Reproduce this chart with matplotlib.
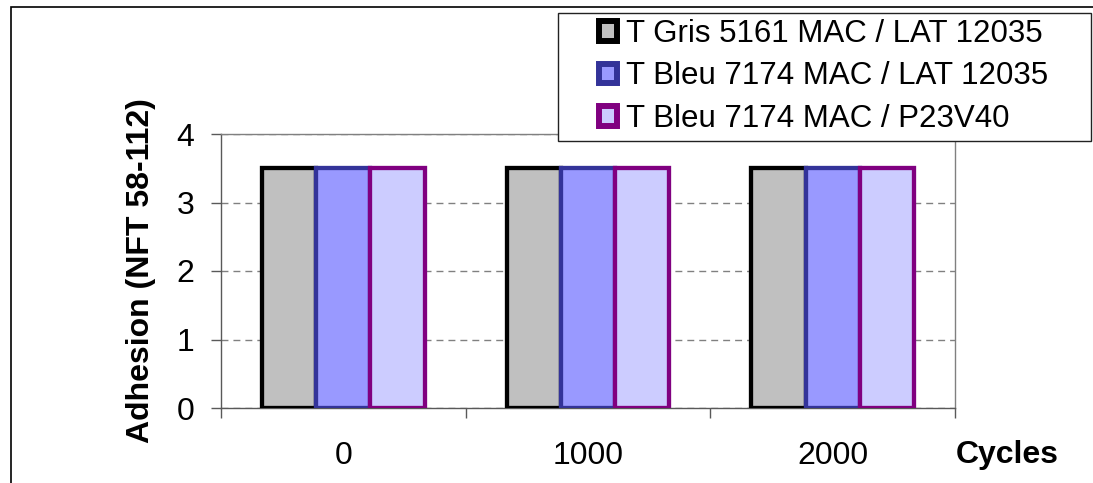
import numpy as np
import matplotlib
matplotlib.use("Agg")
import matplotlib.pyplot as plt
from matplotlib.patches import Rectangle, Patch

plt.rcParams['font.family'] = ['Liberation Sans', 'DejaVu Sans']
plt.rcParams['lines.scale_dashes'] = False

# data
cycles = ["0", "1000", "2000"]
series = ["T Gris 5161 MAC / LAT 12035",
          "T Bleu 7174 MAC / LAT 12035",
          "T Bleu 7174 MAC / P23V40"]
adhesion = [[3.5, 3.5, 3.5],
            [3.5, 3.5, 3.5],
            [3.5, 3.5, 3.5]]
fills = ["#C0C0C0", "#9999FF", "#CCCCFF"]
edges = ["#000000", "#333399", "#800080"]

W, H = 1093, 483
fs = 23
fig = plt.figure(figsize=(W / 100, H / 100), dpi=100)

# axes box in pixels: left 221, right 955, top 134, bottom 408
ax = fig.add_axes([221 / W, (H - 408) / H, (955 - 221) / W, (408 - 134) / H])

x = np.arange(len(cycles))
bw = 0.222
for i in range(len(series)):
    ax.bar(x + (i - 1) * bw, adhesion[i], width=bw, color=fills[i],
           edgecolor=edges[i], linewidth=3.1, zorder=3)

ax.set_xlim(-0.5, 2.5)
ax.set_ylim(0, 4)
ax.set_yticks([0, 1, 2, 3, 4])
ax.set_xticks(x)
ax.set_xticklabels(cycles)
ax.set_xticks([-0.5, 0.5, 1.5, 2.5], minor=True)
ax.tick_params(axis='x', which='major', length=0, pad=24, labelsize=fs)
ax.tick_params(axis='x', which='minor', length=7.2, width=1.0, color='#595959', direction='out')
ax.tick_params(axis='y', length=7.2, width=1.0, color='#595959', direction='out', pad=12, labelsize=fs)

ax.yaxis.grid(True, color='#808080', linewidth=1.0, linestyle=(0, (5, 3.6)), zorder=1)
ax.set_axisbelow(True)

for s in ['left', 'bottom']:
    ax.spines[s].set_color('#595959')
    ax.spines[s].set_linewidth(1.0)
for s in ['top', 'right']:
    ax.spines[s].set_color('#808080')
    ax.spines[s].set_linewidth(1.0)

fig.text(141 / W, 1 - 271 / H, "Adhesion (NFT 58-112)", rotation=90,
         ha='center', va='center', fontsize=fs, fontweight='bold')
fig.text(1007 / W, 1 - 455 / H, "Cycles", ha='center', va='center',
         fontsize=fs, fontweight='bold')

# outer chart border
fig.patches.append(Rectangle((11 / W, -0.2), 1.2, (H - 7) / H + 0.2,
                             transform=fig.transFigure, fill=False,
                             edgecolor='#000000', linewidth=1.2, zorder=0))

# legend frame
fig.patches.append(Rectangle((558 / W, 1 - 141 / H), (1091 - 558) / W, (141 - 13) / H,
                             transform=fig.transFigure, facecolor='white',
                             edgecolor='#222222', linewidth=1.0, zorder=5))

handles = [Patch(facecolor=fills[i], edgecolor=edges[i], linewidth=4.3) for i in range(3)]
fig.legend(handles, series, loc='upper left',
           bbox_to_anchor=(599 / W, 1 - 19 / H), bbox_transform=fig.transFigure,
           frameon=False, fontsize=22.5, borderpad=0, borderaxespad=0,
           handlelength=0.58, handleheight=0.58, handletextpad=0.3,
           labelspacing=0.4).set_zorder(6)

fig.savefig("out.png", dpi=100)
